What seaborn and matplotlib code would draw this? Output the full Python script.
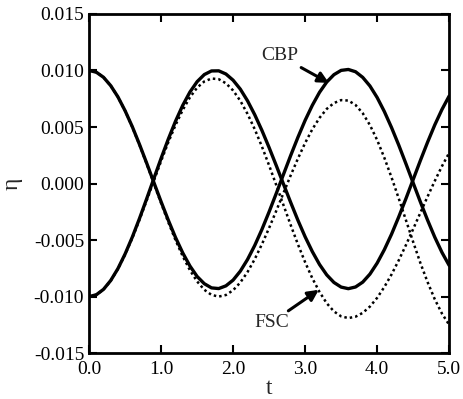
import numpy as np
import pandas as pd
import seaborn as sns
import matplotlib
matplotlib.use('Agg')
import matplotlib.pyplot as plt

# time samples
t = [round(0.1 * i, 1) for i in range(51)]

# CBP (solid) curves
cbp_a = [0.01000, 0.00985, 0.00940, 0.00866, 0.00767, 0.00644, 0.00503, 0.00346, 0.00180, 0.00009,
         -0.00161, -0.00324, -0.00477, -0.00613, -0.00729, -0.00822, -0.00886, -0.00923, -0.00929, -0.00905,
         -0.00854, -0.00775, -0.00672, -0.00548, -0.00406, -0.00250, -0.00086, 0.00082, 0.00249, 0.00409,
         0.00559, 0.00692, 0.00807, 0.00898, 0.00963, 0.01001, 0.01009, 0.00989, 0.00939, 0.00863,
         0.00761, 0.00637, 0.00495, 0.00340, 0.00175, 0.00006, -0.00162, -0.00323, -0.00474, -0.00609,
         -0.00724]
cbp_b = [-0.01000, -0.00984, -0.00936, -0.00858, -0.00753, -0.00623, -0.00474, -0.00309, -0.00134, 0.00045,
         0.00223, 0.00393, 0.00551, 0.00691, 0.00809, 0.00901, 0.00964, 0.00996, 0.00997, 0.00969,
         0.00914, 0.00835, 0.00732, 0.00609, 0.00470, 0.00318, 0.00158, -0.00006, -0.00168, -0.00325,
         -0.00471, -0.00602, -0.00716, -0.00808, -0.00875, -0.00916, -0.00930, -0.00915, -0.00872, -0.00801,
         -0.00704, -0.00585, -0.00448, -0.00295, -0.00133, 0.00035, 0.00203, 0.00365, 0.00518, 0.00655,
         0.00774]

# FSC (dotted) curves
fsc_a = [-0.01000, -0.00984, -0.00937, -0.00860, -0.00756, -0.00629, -0.00482, -0.00320, -0.00149, 0.00026,
         0.00199, 0.00365, 0.00517, 0.00650, 0.00762, 0.00848, 0.00903, 0.00929, 0.00923, 0.00887,
         0.00823, 0.00732, 0.00616, 0.00481, 0.00327, 0.00160, -0.00015, -0.00192, -0.00368, -0.00538,
         -0.00696, -0.00838, -0.00959, -0.01059, -0.01131, -0.01175, -0.01190, -0.01178, -0.01144, -0.01088,
         -0.01011, -0.00915, -0.00804, -0.00679, -0.00544, -0.00403, -0.00259, -0.00116, 0.00022, 0.00153,
         0.00271]
fsc_b = [0.01000, 0.00985, 0.00940, 0.00866, 0.00766, 0.00643, 0.00500, 0.00342, 0.00174, 0.00000,
         -0.00174, -0.00342, -0.00500, -0.00643, -0.00766, -0.00866, -0.00940, -0.00985, -0.01000, -0.00986,
         -0.00944, -0.00875, -0.00783, -0.00669, -0.00537, -0.00393, -0.00240, -0.00083, 0.00073, 0.00221,
         0.00359, 0.00480, 0.00581, 0.00660, 0.00712, 0.00738, 0.00734, 0.00695, 0.00622, 0.00517,
         0.00385, 0.00228, 0.00054, -0.00132, -0.00324, -0.00516, -0.00702, -0.00871, -0.01023, -0.01150,
         -0.01249]

x_ticks = [0.0, 1.0, 2.0, 3.0, 4.0, 5.0]
y_ticks = [-0.015, -0.010, -0.005, 0.000, 0.005, 0.010, 0.015]

df = pd.DataFrame({'t': t, 'cbp_a': cbp_a, 'cbp_b': cbp_b, 'fsc_a': fsc_a, 'fsc_b': fsc_b})

sns.set_theme(style='ticks')
plt.rcParams['font.family'] = ['Liberation Serif', 'DejaVu Serif']
plt.rcParams['mathtext.fontset'] = 'stix'

fig = plt.figure(figsize=(4.64, 3.99), dpi=100)
ax = fig.add_axes([0.192, 0.115, 0.776, 0.85])

for col in ['cbp_a', 'cbp_b']:
    sns.lineplot(data=df, x='t', y=col, ax=ax, color='black', linewidth=2.4)
for col in ['fsc_a', 'fsc_b']:
    sns.lineplot(data=df, x='t', y=col, ax=ax, color='black', linewidth=1.8, linestyle=(0, (1, 1.2)))

ax.set_xlim(0, 5)
ax.set_ylim(-0.015, 0.015)
ax.set_xticks(x_ticks)
ax.set_xticklabels([f'{v:.1f}' for v in x_ticks])
ax.set_yticks(y_ticks)
ax.set_yticklabels([f'{v:.3f}' for v in y_ticks])
ax.tick_params(direction='in', length=6, width=1.5, top=True, right=True, labelsize=14, colors='black')
ax.tick_params(axis='x', pad=6)
for s in ax.spines.values():
    s.set_linewidth(2)
    s.set_color('black')

ax.set_xlabel('t', fontsize=17, labelpad=0)
ax.set_ylabel('η', fontsize=17, labelpad=8)

arrow = dict(arrowstyle='-|>', color='black', lw=2.2, mutation_scale=16, shrinkA=0, shrinkB=0)
ax.annotate('CBP', xy=(3.33, 0.0089), xytext=(2.65, 0.0113), fontsize=14,
            ha='center', va='center', arrowprops=arrow)
ax.annotate('FSC', xy=(3.19, -0.0094), xytext=(2.53, -0.0123), fontsize=14,
            ha='center', va='center', arrowprops=arrow)

fig.savefig('out.png', dpi=100)
